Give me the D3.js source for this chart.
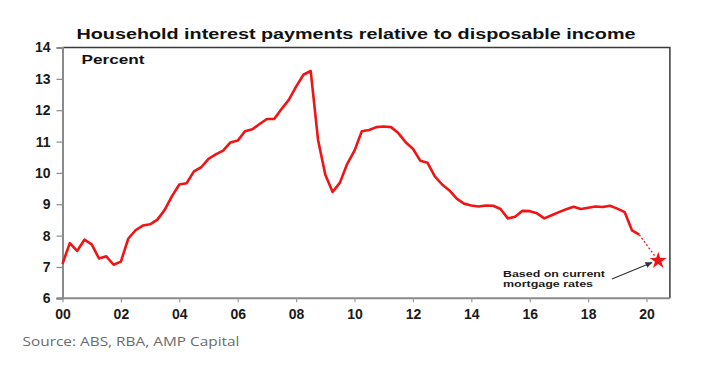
<!DOCTYPE html>
<html><head><meta charset="utf-8">
<script src="https://cdn.jsdelivr.net/npm/d3@7"></script>
<style>
html,body{margin:0;padding:0;background:#fff;}
svg{display:block;}
</style></head>
<body>
<script>
// Quarterly data starting 2000 Q1 (percent)
const startYear = 2000;
const interestShare = [
 7.10, 7.76, 7.51, 7.87, 7.72, 7.27, 7.34, 7.07,
 7.17, 7.90, 8.17, 8.32, 8.36, 8.51, 8.82, 9.26,
 9.63, 9.67, 10.05, 10.18, 10.45, 10.59, 10.71, 10.97,
 11.03, 11.33, 11.39, 11.56, 11.72, 11.72, 12.04, 12.33,
 12.75, 13.13, 13.25, 11.06, 9.94, 9.39, 9.69, 10.29,
 10.71, 11.33, 11.37, 11.46, 11.48, 11.46, 11.27, 10.98,
 10.77, 10.39, 10.32, 9.89, 9.63, 9.44, 9.18, 9.02,
 8.96, 8.93, 8.96, 8.95, 8.85, 8.55, 8.60, 8.79,
 8.78, 8.71, 8.55, 8.65, 8.75, 8.84, 8.92, 8.85,
 8.89, 8.93, 8.91, 8.95, 8.86, 8.75, 8.17, 8.03
];
const projection = { year: 2020.4, value: 7.2 };
const xTickYears = [2000, 2002, 2004, 2006, 2008, 2010, 2012, 2014, 2016, 2018, 2020];
const xTickLabels = ["00", "02", "04", "06", "08", "10", "12", "14", "16", "18", "20"];
const yTicks = [6, 7, 8, 9, 10, 11, 12, 13, 14];
const titleText = "Household interest payments relative to disposable income";
const unitText = "Percent";
const noteLines = ["Based on current", "mortgage rates"];
const sourceText = "Source: ABS, RBA, AMP Capital";

const W = 713, H = 373;
const svg = d3.select("body").append("svg").attr("width", W).attr("height", H);

const x = d3.scaleLinear().domain([2000, 2020.8]).range([62.5, 669.9]);
const y = d3.scaleLinear().domain([6, 14]).range([298.3, 47.5]);

const series = interestShare.map((v, i) => ({ year: startYear + i / 4, value: v }));

// Plot frame: top and right borders
svg.append("path")
  .attr("d", `M${x(2000)},${y(14)}H${x(2020.8)}V${y(6)}`)
  .attr("fill", "none").attr("stroke", "#3a3a3a").attr("stroke-width", 1.5);

// Y axis
const yAxis = svg.append("g").attr("transform", `translate(${x(2000)},0)`)
  .call(d3.axisLeft(y).tickValues(yTicks).tickSize(6).tickPadding(6).tickFormat(d3.format("d")));
yAxis.select(".domain").attr("stroke", "#8a8a8a").attr("stroke-width", 2);
yAxis.selectAll(".tick line").attr("stroke", "#8a8a8a").attr("stroke-width", 1.2);
yAxis.selectAll(".tick text").attr("fill", "#1a1a1a")
  .style("font-family", "Liberation Sans, Arial, sans-serif").style("font-size", "14px").style("font-weight", "bold");

// X axis
const xAxis = svg.append("g").attr("transform", `translate(0,${y(6)})`)
  .call(d3.axisBottom(x).tickValues(xTickYears).tickSize(4).tickPadding(7)
    .tickFormat((d, i) => xTickLabels[i]));
xAxis.select(".domain").attr("d", `M${x(2000) - 6},0H${x(2020.8)}`).attr("stroke", "#8a8a8a").attr("stroke-width", 2);
xAxis.selectAll(".tick line").attr("stroke", "#9a9a9a").attr("stroke-width", 1.2);
xAxis.selectAll(".tick text").attr("fill", "#1a1a1a")
  .style("font-family", "Liberation Sans, Arial, sans-serif").style("font-size", "14px").style("font-weight", "bold");

// Main line
const line = d3.line().x(d => x(d.year)).y(d => y(d.value));
svg.append("path").datum(series)
  .attr("d", line).attr("fill", "none").attr("stroke", "#f01414")
  .attr("stroke-width", 2.6).attr("stroke-linejoin", "round");

// Dashed projection
const last = series[series.length - 1];
svg.append("path").datum([last, projection])
  .attr("d", line).attr("fill", "none").attr("stroke", "#f01414")
  .attr("stroke-width", 1.3).attr("stroke-dasharray", "2,2");

// Star marker
svg.append("path")
  .attr("d", d3.symbol().type(d3.symbolStar).size(90)())
  .attr("transform", `translate(${x(projection.year)},${y(projection.value)})`)
  .attr("fill", "#f01414");

// Arrow
svg.append("defs").append("marker")
  .attr("id", "arr").attr("viewBox", "0 0 10 10").attr("refX", 9).attr("refY", 5)
  .attr("markerWidth", 6).attr("markerHeight", 6).attr("orient", "auto")
  .append("path").attr("d", "M0,1L10,5L0,9Z").attr("fill", "#333");
svg.append("line")
  .attr("x1", 612).attr("y1", 279).attr("x2", 652).attr("y2", 262.5)
  .attr("stroke", "#333").attr("stroke-width", 1.2).attr("marker-end", "url(#arr)");

// Annotation text
const note = svg.append("text")
  .style("font-family", "Liberation Sans, Arial, sans-serif").style("font-size", "9px")
  .style("font-weight", "bold").attr("fill", "#1a1a1a");
note.append("tspan").attr("x", 503).attr("y", 276.5).attr("textLength", 102)
  .attr("lengthAdjust", "spacingAndGlyphs").text(noteLines[0]);
note.append("tspan").attr("x", 503).attr("y", 287).attr("textLength", 90)
  .attr("lengthAdjust", "spacingAndGlyphs").text(noteLines[1]);

// Title
svg.append("text").attr("x", 76.5).attr("y", 39.3).attr("textLength", 559)
  .attr("lengthAdjust", "spacingAndGlyphs")
  .style("font-family", "Liberation Sans, Arial, sans-serif").style("font-size", "14.5px")
  .style("font-weight", "bold").attr("fill", "#111").text(titleText);

// Unit label
svg.append("text").attr("x", 81.5).attr("y", 64.3).attr("textLength", 63)
  .attr("lengthAdjust", "spacingAndGlyphs")
  .style("font-family", "Liberation Sans, Arial, sans-serif").style("font-size", "12px")
  .style("font-weight", "bold").attr("fill", "#111").text(unitText);

// Source
svg.append("text").attr("x", 22.5).attr("y", 346).attr("textLength", 217)
  .attr("lengthAdjust", "spacingAndGlyphs")
  .style("font-family", "Open Sans, Noto Sans, sans-serif").style("font-size", "13.5px")
  .attr("fill", "#6b6b6b").text(sourceText);
</script>
</body></html>
